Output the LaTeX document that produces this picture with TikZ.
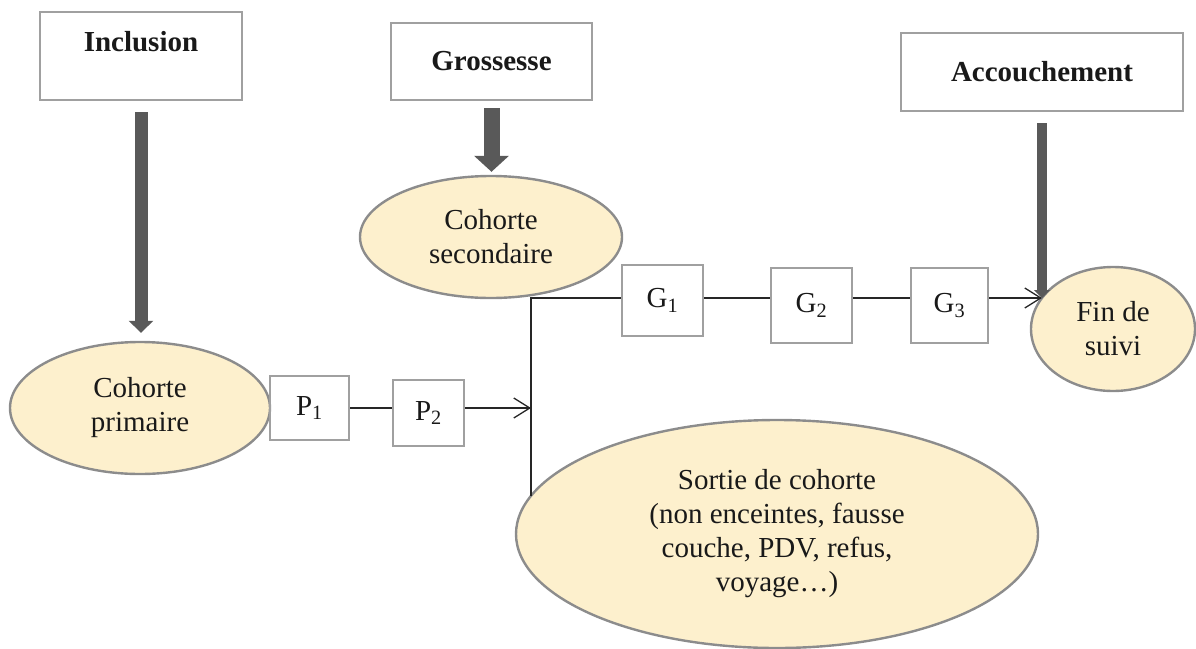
\documentclass[tikz,border=0pt]{standalone}
\usepackage{fontspec}
\setmainfont{Liberation Serif}
\usepackage{tikz}
\usetikzlibrary{arrows.meta,shapes,positioning}
\definecolor{creme}{HTML}{FDF0CD}
\definecolor{bord}{HTML}{8C8C8C}
\definecolor{cadre}{HTML}{A0A0A0}
\definecolor{fleche}{HTML}{595959}
\tikzset{
  basic/.style  = {draw=cadre, line width=2.4pt, text=black!90, rectangle, inner sep=0pt,
                   align=center, font=\fontsize{29}{34}\selectfont},
  titre/.style  = {basic, font=\fontsize{29}{34}\selectfont\bfseries},
  etape/.style  = {basic},
  cohorte/.style = {basic, ellipse, draw=bord, fill=creme},
  lien/.style   = {draw=black!85, line width=1.3pt},
  grosse fleche/.style = {draw=fleche, line width=#1}
}

\begin{document}
\begin{tikzpicture}[x=1pt,y=-1pt]
\useasboundingbox (0,0) rectangle (1196,648);
\node[titre, minimum width=202pt, minimum height=88pt, text height=20pt, text depth=29pt] (incl) at (141,56) {Inclusion};
\node[titre, minimum width=201pt, minimum height=77pt] (gross) at (491.5,61.5) {Grossesse};
\node[titre, minimum width=282pt, minimum height=78pt] (accou) at (1042,72) {Accouchement};
\node[cohorte, minimum width=260pt, minimum height=132pt] (cp) at (140,408) {Cohorte\\primaire};
\node[cohorte, minimum width=262pt, minimum height=122pt] (cs) at (491,237) {Cohorte\\secondaire};
\node[cohorte, minimum width=522pt, minimum height=228pt] (sortie) at (777,534)
  {Sortie de cohorte\\(non enceintes, fausse\\couche, PDV, refus,\\voyage…)};
\node[cohorte, minimum width=164pt, minimum height=124pt] (fin) at (1113,329) {Fin de\\suivi};
\node[etape, minimum width=79pt, minimum height=64pt] (p1) at (309.5,408) {P\textsubscript{1}};
\node[etape, minimum width=71pt, minimum height=66pt] (p2) at (428.5,413) {P\textsubscript{2}};
\node[etape, minimum width=81pt, minimum height=71pt] (g1) at (662.5,300.5) {G\textsubscript{1}};
\node[etape, minimum width=81pt, minimum height=75pt] (g2) at (811.5,305.5) {G\textsubscript{2}};
\node[etape, minimum width=77pt, minimum height=75pt] (g3) at (949.5,305.5) {G\textsubscript{3}};
\coordinate (jonction) at (531,298);
\coordinate (sortiebord) at (531,496);
\coordinate (finbord) at (1042,298);

\draw[lien] (p1.east) -- (p2.west |- p1.east);
\draw[lien, -{Straight Barb[length=16pt,width=20pt]}] (p2.east |- p1.east) -- (p1.east -| jonction);
\draw[lien] (sortiebord) -- (jonction) -- (g1.west |- jonction);
\draw[lien] (g1.east |- jonction) -- (g2.west |- jonction);
\draw[lien] (g2.east |- jonction) -- (g3.west |- jonction);
\draw[lien, -{Straight Barb[length=16pt,width=20pt]}] (g3.east |- jonction) -- (finbord);

\draw[grosse fleche=13pt, -{Triangle[width=24pt,length=12pt]}, shorten <=11pt, shorten >=8pt]
  (incl.south) -- (incl.south |- cp.north);
\draw[grosse fleche=16pt, -{Triangle[width=34pt,length=16pt]}, shorten <=7pt, shorten >=3pt]
  (gross.south) -- (gross.south |- cs.north);
\draw[grosse fleche=10pt, -{Triangle[width=16pt,length=8pt]}, shorten <=11pt]
  (accou.south) -- (finbord);
\end{tikzpicture}
\end{document}
